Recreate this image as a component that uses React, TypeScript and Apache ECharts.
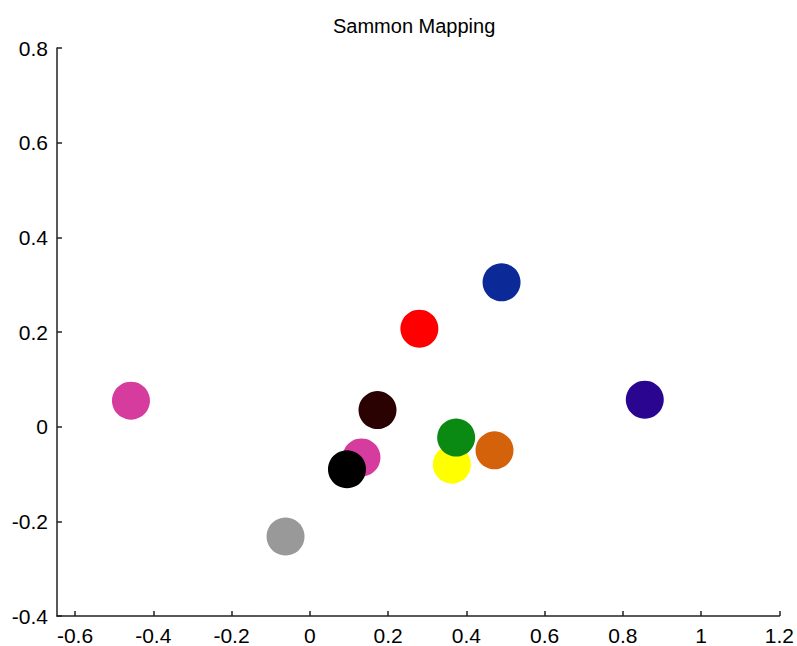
import React, { useEffect, useRef } from "react";
import * as echarts from "echarts";

const pointX = [-0.457, -0.062, 0.132, 0.095, 0.173, 0.280, 0.490, 0.363, 0.374, 0.472, 0.856];
const pointY = [0.055, -0.232, -0.065, -0.090, 0.035, 0.207, 0.305, -0.080, -0.023, -0.050, 0.057];
const pointColors = [
  "#d63c9e",
  "#999999",
  "#d63c9e",
  "#000000",
  "#2a0202",
  "#ff0000",
  "#0b2a98",
  "#ffff00",
  "#0a8a12",
  "#d4620a",
  "#2a0590",
];
const xTicks = [-0.6, -0.4, -0.2, 0, 0.2, 0.4, 0.6, 0.8, 1, 1.2];
const yMin = -0.4;
const yMax = 0.8;
const yStep = 0.2;
const xMin = -0.646;
const xMax = 1.2;
const titleText = "Sammon Mapping";

export default function App() {
  const ref = useRef<HTMLDivElement>(null);
  useEffect(() => {
    document.body.style.margin = "0";
    if (!ref.current) return;
    const chart = echarts.init(ref.current, undefined, { renderer: "svg" });
    const font = "Liberation Sans, Arial, Helvetica, sans-serif";
    chart.setOption({
      animation: false,
      backgroundColor: "#ffffff",
      title: {
        text: titleText,
        left: 328,
        top: 11,
        textStyle: { fontFamily: font, fontSize: 20, fontWeight: "normal", color: "#000" },
      },
      grid: { left: 57, right: 16, top: 48, bottom: 28, containLabel: false },
      xAxis: {
        type: "value",
        min: xMin,
        max: xMax,
        splitLine: { show: false },
        axisLine: { show: true, onZero: false, lineStyle: { color: "#222", width: 1.5 } },
        axisTick: {
          show: true,
          inside: true,
          length: 5,
          customValues: xTicks,
          lineStyle: { color: "#222", width: 1.5 },
        },
        axisLabel: {
          customValues: xTicks,
          margin: 9,
          fontFamily: font,
          fontSize: 21,
          color: "#000",
        },
      },
      yAxis: {
        type: "value",
        min: yMin,
        max: yMax,
        interval: yStep,
        splitLine: { show: false },
        axisLine: { show: true, onZero: false, lineStyle: { color: "#222", width: 1.5 } },
        axisTick: { show: true, inside: true, length: 5, lineStyle: { color: "#222", width: 1.5 } },
        axisLabel: {
          margin: 9,
          fontFamily: font,
          fontSize: 21,
          color: "#000",
          formatter: (v: number) => String(Math.round(v * 10) / 10),
        },
      },
      series: [
        {
          type: "scatter",
          symbol: "circle",
          symbolSize: 38,
          data: pointX.map((x, i) => ({
            value: [x, pointY[i]],
            itemStyle: { color: pointColors[i], opacity: 1 },
          })),
        },
      ],
    });
    return () => chart.dispose();
  }, []);
  return <div ref={ref} style={{ width: 797, height: 646 }} />;
}
